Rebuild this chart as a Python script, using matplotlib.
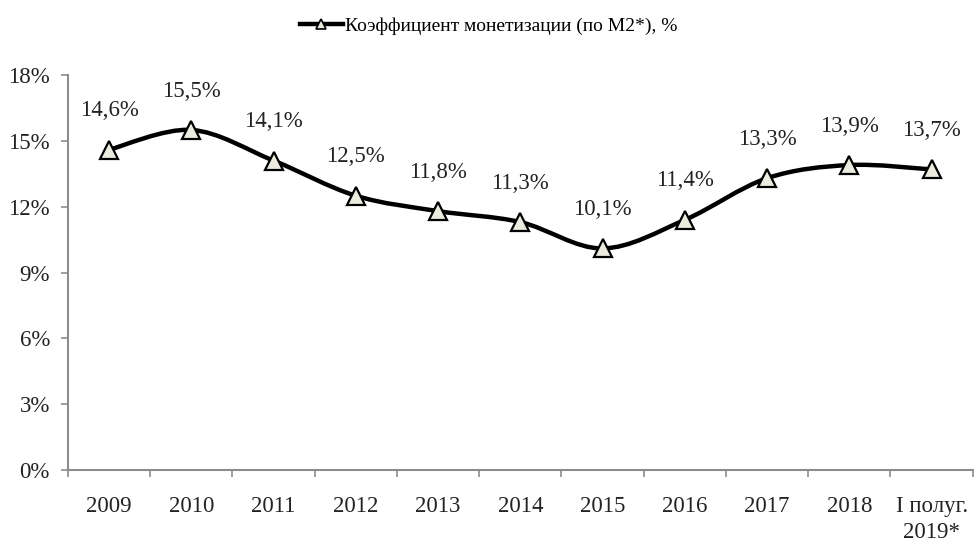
import matplotlib

matplotlib.use("Agg")
import matplotlib.pyplot as plt
from matplotlib.path import Path
from matplotlib.patches import PathPatch
from matplotlib.lines import Line2D
from matplotlib.ticker import FixedLocator, NullFormatter

categories = ["2009", "2010", "2011", "2012", "2013", "2014", "2015", "2016",
              "2017", "2018", "I полуг.\n2019*"]
values = [14.6, 15.5, 14.1, 12.5, 11.8, 11.3, 10.1, 11.4, 13.3, 13.9, 13.7]
value_labels = ["14,6%", "15,5%", "14,1%", "12,5%", "11,8%", "11,3%", "10,1%",
                "11,4%", "13,3%", "13,9%", "13,7%"]
y_ticks = [0, 3, 6, 9, 12, 15, 18]
series_name = "Коэффициент монетизации (по М2*), %"

plt.rcParams["font.family"] = ["Liberation Serif", "DejaVu Serif"]

AXIS_GREY = "#8c8c8c"
MARKER_FILL = "#ecebdf"


def smooth_path(xs, ys):
    # Excel-style smoothed line: cubic Bezier with Catmull-Rom tangents
    n = len(xs)
    verts = [(xs[0], ys[0])]
    codes = [Path.MOVETO]
    for i in range(n - 1):
        x0, y0 = (xs[i - 1], ys[i - 1]) if i > 0 else (xs[i], ys[i])
        x1, y1 = xs[i], ys[i]
        x2, y2 = xs[i + 1], ys[i + 1]
        x3, y3 = (xs[i + 2], ys[i + 2]) if i + 2 < n else (x2, y2)
        c1 = (x1 + (x2 - x0) / 6.0, y1 + (y2 - y0) / 6.0)
        c2 = (x2 - (x3 - x1) / 6.0, y2 - (y3 - y1) / 6.0)
        verts += [c1, c2, (x2, y2)]
        codes += [Path.CURVE4, Path.CURVE4, Path.CURVE4]
    return Path(verts, codes)


fig = plt.figure(figsize=(9.77, 5.48), dpi=100)
ax = fig.add_axes([0.0696, 0.1423, 0.926, 0.7207])

xs = list(range(len(categories)))
ax.add_patch(PathPatch(smooth_path(xs, values), facecolor="none",
                       edgecolor="black", lw=3.2, capstyle="round", zorder=2))
ax.plot(xs, values, linestyle="none", marker="^", markersize=13,
        markerfacecolor=MARKER_FILL, markeredgecolor="black",
        markeredgewidth=1.6, zorder=3)

for x, v, lab in zip(xs, values, value_labels):
    ax.annotate(lab, (x, v), xytext=(0, 28), textcoords="offset points",
                ha="center", va="center", fontsize=16.5, color="#222222")

ax.set_xlim(-0.5, len(categories) - 0.5)
ax.set_ylim(0, 18)
ax.set_yticks(y_ticks)
ax.set_yticklabels([f"{t}%" for t in y_ticks])

ax.xaxis.set_major_locator(FixedLocator([i - 0.5 for i in range(len(categories) + 1)]))
ax.xaxis.set_major_formatter(NullFormatter())
ax.xaxis.set_minor_locator(FixedLocator(xs))
ax.set_xticklabels(categories, minor=True)

for side in ("top", "right"):
    ax.spines[side].set_visible(False)
for side in ("left", "bottom"):
    ax.spines[side].set_color(AXIS_GREY)
    ax.spines[side].set_linewidth(1.5)

ax.tick_params(axis="both", which="major", direction="out", length=5,
               width=1.2, color=AXIS_GREY, labelsize=16.5, labelcolor="#222222")
ax.tick_params(axis="y", pad=8)
ax.tick_params(axis="x", which="minor", length=0, pad=19, labelsize=16.5,
               labelcolor="#222222")
for lbl in ax.get_xticklabels(minor=True):
    lbl.set_linespacing(1.3)

handle = Line2D([], [], color="black", lw=3.2, marker="^", markersize=7,
                markerfacecolor=MARKER_FILL, markeredgecolor="black",
                markeredgewidth=1.2)
fig.legend([handle], [series_name], loc="center", bbox_to_anchor=(0.5, 0.952),
           frameon=False, fontsize=14, handlelength=2.2, handletextpad=0.1)

fig.savefig("out.png", dpi=100)
plt.close(fig)
